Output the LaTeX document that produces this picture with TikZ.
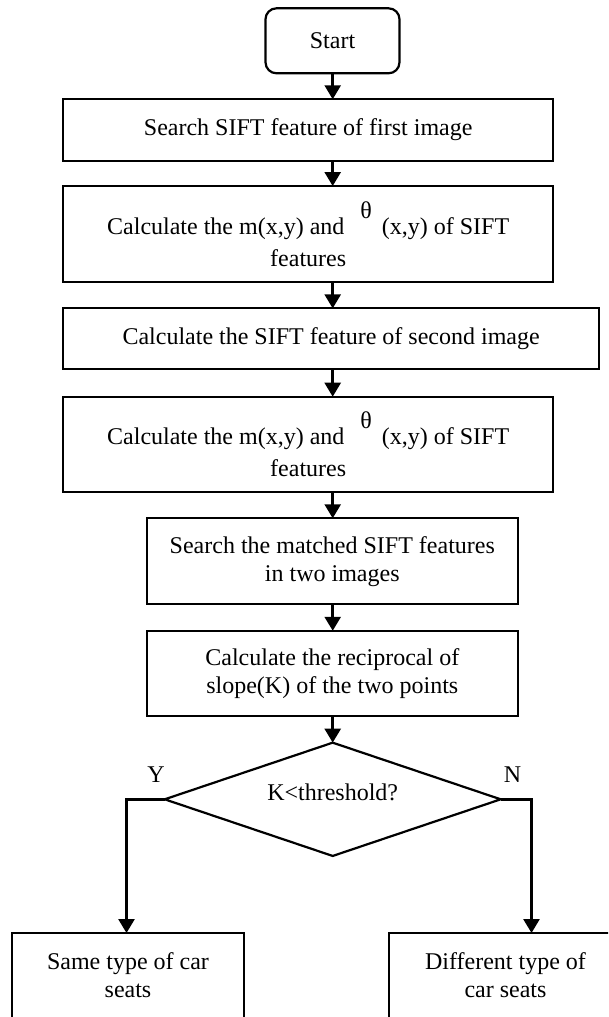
\documentclass[tikz,border=0pt]{standalone}
\usepackage{fontspec}
\setmainfont{Liberation Serif}
\usetikzlibrary{shapes.geometric,arrows.meta}
\tikzset{
  every node/.style={font=\fontsize{24}{28}\selectfont, inner sep=0pt, outer sep=0pt},
  box/.style={draw, line width=2.2pt, rectangle, align=center},
  startbox/.style={draw, line width=2.2pt, rectangle, rounded corners=11pt, align=center},
  decision/.style={draw, line width=2.2pt, diamond, shape aspect=2.97},
  arr/.style={line width=2.6pt, -{Triangle[width=16pt,length=14pt]}},
  lbl/.style={align=center}
}
\newcommand{\thetaup}{\raisebox{16pt}{θ}}
\begin{document}
\begin{tikzpicture}[x=1pt,y=1pt]
\useasboundingbox (0,0) rectangle (608,-1017);
\clip (0,0) rectangle (608,-1017);
\node[startbox, minimum width=134pt, minimum height=65pt] (start) at (332.5,-40.8) {Start};
\node[box, minimum width=490pt, minimum height=61.4pt] (b1) at (308.2,-130) {Search SIFT feature of first image};
\node[box, minimum width=490pt, minimum height=95.7pt] (b2) at (308.2,-233.9)
  {Calculate the m(x,y) and\hspace{16pt}\thetaup\hspace{10pt}(x,y) of SIFT\\[4pt] features};
\node[box, minimum width=536pt, minimum height=60.7pt] (b3) at (331.1,-338.7) {Calculate the SIFT feature of second image};
\node[box, minimum width=490pt, minimum height=95.6pt] (b4) at (308.2,-444.5)
  {Calculate the m(x,y) and\hspace{16pt}\thetaup\hspace{10pt}(x,y) of SIFT\\[4pt] features};
\node[box, minimum width=371.4pt, minimum height=86pt] (b5) at (332.3,-561.3) {Search the matched SIFT features\\in two images};
\node[box, minimum width=371.4pt, minimum height=85.3pt] (b6) at (332.3,-673.4) {Calculate the reciprocal of\\slope(K) of the two points};
\node[decision, minimum width=336pt, minimum height=113.3pt] (dia) at (332.7,-799.3) {};
\node (condtext) at (332.7,-792) {K<threshold?};
\node[box, minimum width=232pt, minimum height=92pt] (same) at (128,-979) {};
\node[lbl] (sametext) at (128,-975) {Same type of car\\seats};
\node[box, minimum width=233pt, minimum height=92pt] (diff) at (505.5,-979) {};
\node[lbl] (difftext) at (505.5,-975) {Different type of\\car seats};
\node (ylab) at (156,-775) {Y};
\node (nlab) at (512.6,-775) {N};
\coordinate (ax) at (332.7,0);
\coordinate (yturn) at (126.5,-799.3);
\coordinate (nturn) at (531.5,-799.3);
\draw[arr] (ax |- start.south) -- (ax |- b1.north);
\draw[arr] (ax |- b1.south) -- (ax |- b2.north);
\draw[arr] (ax |- b2.south) -- (ax |- b3.north);
\draw[arr] (ax |- b3.south) -- (ax |- b4.north);
\draw[arr] (ax |- b4.south) -- (ax |- b5.north);
\draw[arr] (ax |- b5.south) -- (ax |- b6.north);
\draw[arr] (ax |- b6.south) -- (dia.north);
\draw[arr] (dia.west) -- (yturn) -- (yturn |- same.north);
\draw[arr] (dia.east) -- (nturn) -- (nturn |- diff.north);
\end{tikzpicture}
\end{document}
